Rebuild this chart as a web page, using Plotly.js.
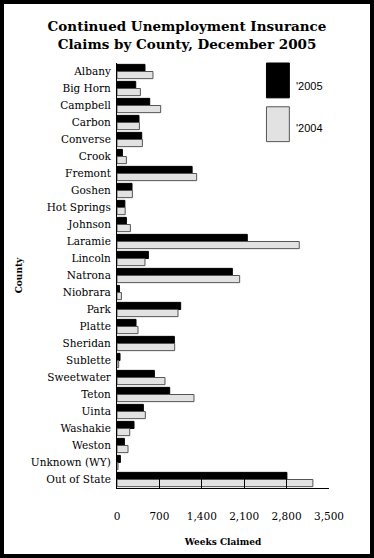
<!DOCTYPE html>
<html>
<head>
<meta charset="utf-8">
<script src="https://cdn.plot.ly/plotly-3.0.1.min.js"></script>
<style>
html,body{margin:0;padding:0;background:#fff;}
#frame{width:374px;height:558px;box-sizing:border-box;border:4px solid #000;background:#fff;}
#chart{width:366px;height:550px;}
</style>
</head>
<body>
<div id="frame"><div id="chart"></div></div>
<script>
const counties = ["Albany","Big Horn","Campbell","Carbon","Converse","Crook","Fremont","Goshen","Hot Springs","Johnson","Laramie","Lincoln","Natrona","Niobrara","Park","Platte","Sheridan","Sublette","Sweetwater","Teton","Uinta","Washakie","Weston","Unknown (WY)","Out of State"];
const claims2005 = [462,309,540,363,408,89,1240,248,130,155,2151,518,1904,40,1051,314,947,50,617,870,435,281,122,56,2805];
const claims2004 = [594,386,721,370,419,155,1315,254,135,221,3009,462,2025,73,1007,347,952,28,792,1271,468,210,182,17,3234];
const seriesNames = ["'2005","'2004"];
const xTicks = [0,700,1400,2100,2800,3500];
const xTickText = ["0","700","1,400","2,100","2,800","3,500"];

const serif = "DejaVu Serif, serif";
const traces = [
  {type:"bar", orientation:"h", name:seriesNames[0], y:counties, x:claims2005,
   marker:{color:"#000000", line:{color:"#000000", width:1}}, showlegend:false},
  {type:"bar", orientation:"h", name:seriesNames[1], y:counties, x:claims2004,
   marker:{color:"#e2e2e2", line:{color:"#555555", width:1}}, showlegend:false}
];

const layout = {
  width:366, height:550,
  margin:{l:113, r:41, t:59, b:66},
  paper_bgcolor:"#fff", plot_bgcolor:"#fff",
  barmode:"group", bargap:0.16, bargroupgap:0,
  title:{text:"Continued Unemployment Insurance<br>Claims by County, December 2005",
    font:{family:serif, size:13.5, color:"#000", weight:"bold"},
    x:0.5, xanchor:"center", y:0.951, yanchor:"middle", xref:"container", yref:"container"},
  xaxis:{range:[0,3500], tickvals:xTicks, ticktext:xTickText, showgrid:false, zeroline:false,
    showline:true, linecolor:"#000", linewidth:1, ticks:"inside", ticklen:9, tickcolor:"#000",
    ticklabelstandoff:18,
    tickfont:{family:serif, size:10.5, color:"#000"},
    title:{text:"Weeks Claimed", font:{family:serif, size:9, color:"#000", weight:"bold"}, standoff:18},
    fixedrange:true},
  yaxis:{type:"category", autorange:"reversed", showgrid:false, zeroline:false,
    showline:true, linecolor:"#000", linewidth:1, ticks:"", ticklabelstandoff:3,
    tickfont:{family:serif, size:10.5, color:"#000"},
    title:{text:"County", font:{family:serif, size:9, color:"#000", weight:"bold"}, standoff:6},
    fixedrange:true},
  shapes:[
    {type:"rect", xref:"paper", yref:"paper", x0:0.705, x1:0.813, y0:0.918, y1:1.0,
     fillcolor:"#000", line:{color:"#000", width:1}},
    {type:"rect", xref:"paper", yref:"paper", x0:0.705, x1:0.813, y0:0.815, y1:0.897,
     fillcolor:"#e2e2e2", line:{color:"#555", width:1}}
  ],
  annotations:[
    {xref:"paper", yref:"paper", x:0.835, y:0.946, xanchor:"left", yanchor:"middle", showarrow:false,
     text:seriesNames[0], font:{family:"Liberation Sans, Arial, sans-serif", size:11, color:"#000"}},
    {xref:"paper", yref:"paper", x:0.835, y:0.848, xanchor:"left", yanchor:"middle", showarrow:false,
     text:seriesNames[1], font:{family:"Liberation Sans, Arial, sans-serif", size:11, color:"#000"}}
  ]
};
Plotly.newPlot("chart", traces, layout, {displayModeBar:false, staticPlot:true});
</script>
</body>
</html>
